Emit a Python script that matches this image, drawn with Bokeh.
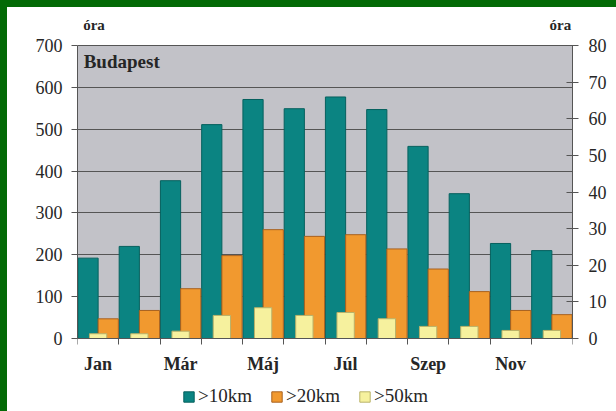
import numpy as np
from bokeh.plotting import figure
from bokeh.models import (Range1d, LinearAxis, FixedTicker, Legend, LegendItem,
                          Label, BoxAnnotation, GlobalInlineStyleSheet)
from bokeh.embed import file_html
from bokeh.resources import INLINE

# ---- data ----
months = ["Jan", "Feb", "Már", "Ápr", "Máj", "Jún", "Júl", "Aug", "Szep", "Okt", "Nov", "Dec"]
shown_months = ["Jan", "Már", "Máj", "Júl", "Szep", "Nov"]
over10 = [192, 220, 377, 511, 571, 549, 577, 547, 459, 346, 227, 210]   # left axis (óra)
over20 = [47, 67, 119, 198, 260, 244, 248, 214, 166, 112, 67, 57]       # left axis (óra)
over50 = [1.3, 1.3, 2.0, 6.3, 8.4, 6.3, 7.1, 5.4, 3.3, 3.3, 2.2, 2.2]   # right axis (óra)
left_ticks = [0, 100, 200, 300, 400, 500, 600, 700]
right_ticks = [0, 10, 20, 30, 40, 50, 60, 70, 80]
series_names = [">10km", ">20km", ">50km"]
unit_label = "óra"
station = "Budapest"

FONT = "Liberation Serif"
TXT = "#262626"
AX = "#555555"

# ---- layout geometry (pixels) ----
W, H = 616, 411
PLOT_TOP, PLOT_BOTTOM = 45, 338          # plot area edges in the window
L_MAX, R_MAX = left_ticks[-1], right_ticks[-1]
px_per_unit = (PLOT_BOTTOM - PLOT_TOP) / L_MAX
y_lo = -(H - PLOT_BOTTOM) / px_per_unit
y_hi = L_MAX + PLOT_TOP / px_per_unit
ratio = R_MAX / L_MAX

idx = np.arange(len(months))

p = figure(width=W, height=H, output_backend="svg", toolbar_location=None, title=None,
           x_range=Range1d(0, len(months)), y_range=Range1d(y_lo, y_hi),
           min_border_left=77, min_border_right=44, min_border_top=0, min_border_bottom=0,
           background_fill_alpha=0, border_fill_color="#ffffff", border_fill_alpha=0,
           outline_line_color=None)
p.extra_y_ranges = {"right": Range1d(y_lo * ratio, y_hi * ratio)}

# grey plot area
box = BoxAnnotation(left=0, right=len(months), bottom=0, top=L_MAX, fill_color="#c2c2c8",
                    fill_alpha=1, line_color=AX, line_width=1, level="underlay")
p.center = [box] + list(p.center)

r10 = p.vbar(x=idx + 0.255, top=over10, width=0.49, bottom=0,
             fill_color="#0b8482", line_color="#06605e", line_width=1)
r20 = p.vbar(x=idx + 0.745, top=over20, width=0.49, bottom=0,
             fill_color="#f1992f", line_color="#a8611f", line_width=1)
r50 = p.vbar(x=idx + 0.5, top=over50, width=0.42, bottom=0, y_range_name="right",
             fill_color="#f6f19e", line_color="#b9b26a", line_width=1)

# grid
p.xgrid.visible = False
p.ygrid.ticker = FixedTicker(ticks=left_ticks)
p.ygrid.grid_line_color = AX
p.ygrid.grid_line_width = 1

# bottom axis at y=0: labels at every other month center, tick marks at month boundaries
xa = p.xaxis[0]
xa.fixed_location = 0
xa.bounds = (0, len(months))
xa.ticker = FixedTicker(ticks=[months.index(m) + 0.5 for m in shown_months],
                        minor_ticks=list(range(len(months) + 1)))
xa.major_label_overrides = {months.index(m) + 0.5: m for m in shown_months}
xa.major_tick_line_color = None
xa.minor_tick_in = 0
xa.minor_tick_out = 6
xa.minor_tick_line_color = AX
xa.axis_line_color = AX
xa.major_label_text_font = FONT
xa.major_label_text_font_size = "18px"
xa.major_label_text_font_style = "bold"
xa.major_label_text_color = TXT
xa.major_label_standoff = 9

# left axis
ya = p.yaxis[0]
ya.bounds = (0, L_MAX)
ya.ticker = FixedTicker(ticks=left_ticks)
ya.major_tick_in = 0
ya.major_tick_out = 6
ya.minor_tick_line_color = None
ya.major_tick_line_color = AX
ya.axis_line_color = AX
ya.major_label_text_font = FONT
ya.major_label_text_font_size = "18px"
ya.major_label_text_color = TXT
ya.major_label_standoff = 9

# right axis
ra = LinearAxis(y_range_name="right", ticker=FixedTicker(ticks=right_ticks), bounds=(0, R_MAX))
ra.major_tick_in = 6
ra.major_tick_out = 6
ra.minor_tick_line_color = None
ra.major_tick_line_color = AX
ra.axis_line_color = AX
ra.major_label_text_font = FONT
ra.major_label_text_font_size = "18px"
ra.major_label_text_color = TXT
ra.major_label_standoff = 10
p.add_layout(ra, "right")

# texts
p.add_layout(Label(x=0.15, y=661, text=station, text_font=FONT, text_font_size="19px",
                   text_font_style="bold", text_color=TXT, text_baseline="middle"))
p.add_layout(Label(x=0.4, y=750, text=unit_label, text_font=FONT, text_font_size="15px",
                   text_font_style="bold", text_color=TXT, text_baseline="middle",
                   text_align="center"))
p.add_layout(Label(x=len(months) - 0.03, y=750, text=unit_label, text_font=FONT,
                   text_font_size="15px", text_font_style="bold", text_color=TXT,
                   text_baseline="middle", text_align="right"))

# legend (inside the frame, below the axis)
legend = Legend(items=[LegendItem(label=series_names[0], renderers=[r10]),
                       LegendItem(label=series_names[1], renderers=[r20]),
                       LegendItem(label=series_names[2], renderers=[r50])],
                orientation="horizontal", location=(105, 4),
                glyph_width=13, glyph_height=13, label_standoff=3, spacing=4,
                label_width=68, padding=0, margin=0, border_line_color=None,
                background_fill_alpha=0,
                label_text_font="Liberation Serif, serif", label_text_font_size="19px",
                label_text_font_style="normal", label_text_color=TXT,
                label_height=18)
p.add_layout(legend, "center")

p.stylesheets = [GlobalInlineStyleSheet(css=(
    "html { background: linear-gradient(#036a06,#036a06) 0 0 / 7px 100% no-repeat, "
    "linear-gradient(#036a06,#036a06) 0 0 / 100% 7px no-repeat, #ffffff !important; }"
    "body { background: transparent !important; }"))]

open("out.html", "w").write(file_html(p, INLINE))
